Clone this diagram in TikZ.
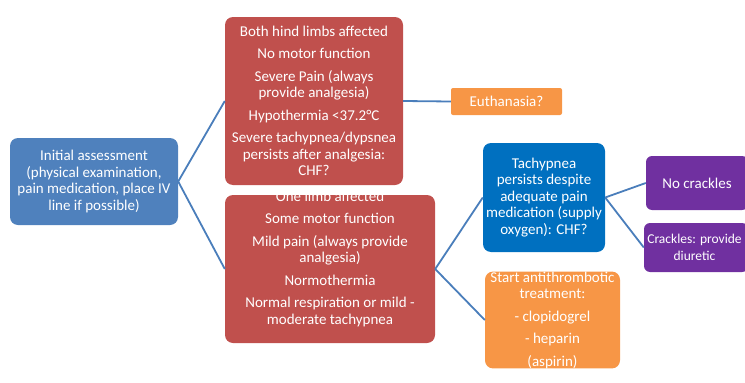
\documentclass[tikz,border=0pt]{standalone}
\usepackage{fontspec}
\setmainfont{Carlito}
\usetikzlibrary{positioning}
\definecolor{azul}{HTML}{4F81BD}
\definecolor{azulfuerte}{HTML}{0070C0}
\definecolor{rojo}{HTML}{C0504D}
\definecolor{naranja}{HTML}{F79646}
\definecolor{morado}{HTML}{7030A0}
\definecolor{linea}{HTML}{4A7EBB}
\tikzset{
    caja/.style={rounded corners=8pt, text=white, align=center, inner sep=0pt, font=\fontsize{15}{16.5}\selectfont},
    texto/.style={text=white, align=center, inner sep=0pt, font=\fontsize{15}{16.5}\selectfont},
    conector/.style={draw=linea, line width=1.8pt},
}

\begin{document}
\begin{tikzpicture}[x=1pt, y=-1pt]
\useasboundingbox (0,0) rectangle (745,383);
% Initial assessment
\node[caja, fill=azul, minimum width=168pt, minimum height=87pt] (inicial) at (94,181.5)
    {Initial assessment\\ (physical examination,\\ pain medication, place IV\\ line if possible)};
% Severe branch
\node[caja, fill=rojo, minimum width=178pt, minimum height=168pt] (graves) at (314,101)
    {Both hind limbs affected\\[6pt] No motor function\\[6pt] Severe Pain (always\\ provide analgesia)\\[6pt]
     Hypothermia <37.2°C\\[6pt] Severe tachypnea/dypsnea\\ persists after analgesia:\\ CHF?};
\node[caja, rounded corners=2pt, fill=naranja, minimum width=111pt, minimum height=27pt] (eutanasia) at (506.5,101.5)
    {Euthanasia?};
% Mild branch
\node[caja, fill=rojo, minimum width=210pt, minimum height=148pt] (leves) at (330,269) {};
\node[texto] (levestxt) at (330,258.5)
    {One limb affected\\[6pt] Some motor function\\[6pt] Mild pain (always provide\\ analgesia)\\[6pt]
     Normothermia\\[6pt] Normal respiration or mild -\\ moderate tachypnea};
\node[caja, fill=azulfuerte, minimum width=122pt, minimum height=109pt] (taquipnea) at (544,197.5)
    {Tachypnea\\ persists despite\\ adequate pain\\ medication (supply\\ oxygen): CHF?};
\node[caja, fill=naranja, minimum width=135pt, minimum height=96pt] (antitromb) at (552.5,320)
    {Start antithrombotic\\ treatment:\\[6pt] - clopidogrel\\[6pt] - heparin\\[6pt] (aspirin)};
% CHF outcome
\node[caja, rounded corners=6pt, fill=morado, minimum width=102pt, minimum height=54pt] (sincrep) at (697,183)
    {No crackles};
\node[caja, rounded corners=6pt, fill=morado, minimum width=104pt, minimum height=49pt] (concrep) at (696,247.5) {};
\node[texto, font=\fontsize{13.5}{16.5}\selectfont] (concreptxt) at (694.5,247.5)
    {Crackles: provide\\ diuretic};
% connectors
\draw[conector] (inicial.east) -- (graves.west);
\draw[conector] (inicial.east) -- (leves.west);
\draw[conector] (graves.east) -- (eutanasia.west);
\draw[conector] (leves.east) -- (taquipnea.west);
\draw[conector] (leves.east) -- (antitromb.west);
\draw[conector] (taquipnea.east) -- (sincrep.west);
\draw[conector] (taquipnea.east) -- (concrep.west);
\end{tikzpicture}
\end{document}
